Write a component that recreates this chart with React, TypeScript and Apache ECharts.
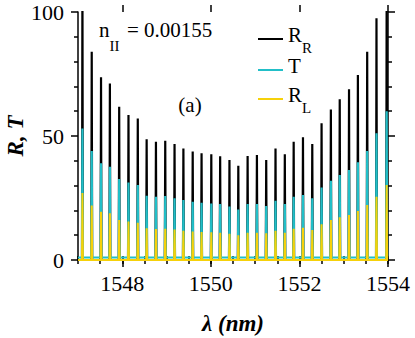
import React, { useEffect, useRef } from 'react';
import * as echarts from 'echarts';

// Resonance wavelengths (nm) of the spikes
const wavelengths = [
  1547.10, 1547.31, 1547.52, 1547.72, 1547.93, 1548.14, 1548.35, 1548.55, 1548.76, 1548.97,
  1549.18, 1549.38, 1549.59, 1549.79, 1550.01, 1550.21, 1550.42, 1550.62, 1550.83, 1551.04,
  1551.25, 1551.46, 1551.67, 1551.87, 1552.08, 1552.29, 1552.50, 1552.71, 1552.91, 1553.12,
  1553.32, 1553.53, 1553.74, 1553.97,
];
// Peak heights
const peaksRR = [
  112, 84, 73.7, 71.2, 61.8, 58.5, 57.1, 48.7, 47.7, 48.1,
  46.8, 45, 43.7, 43, 42.6, 41.8, 40.3, 38, 41.9, 42.3,
  40.3, 45, 42.6, 47.7, 49.5, 46.8, 55.1, 60.7, 64.8, 68.8,
  74.6, 84, 97.5, 112,
];
const peaksT = [
  53, 44, 39, 37.6, 32.7, 31.2, 30.2, 25.9, 25.5, 25.8,
  24.9, 24.2, 23.5, 23.1, 22.8, 22.6, 21.6, 20.4, 22.6, 22.6,
  21.8, 23.9, 22.6, 25.5, 26.2, 24.9, 29.2, 32, 34.3, 36.3,
  39.4, 44, 51.1, 60,
];
const peaksRL = [
  27, 22, 19.5, 18.8, 16.1, 15.5, 15, 12.8, 12.5, 12.6,
  12.3, 11.8, 11.5, 11.3, 11.2, 11, 10.6, 10, 11, 11,
  10.8, 11.8, 11, 12.6, 13, 12.1, 14.4, 16.1, 17.2, 18.1,
  19.8, 22.2, 25.5, 30.2,
];
// Off-resonance levels
const baseRR = 0;
const baseT = 1;
const baseRL = 0;

const xMin = 1547;
const xMax = 1554;
const xTickLabels = [1548, 1550, 1552, 1554];
const yMin = 0;
const yMax = 100;

const SPIKE_HALF = 0.01; // nm, half-width of a drawn resonance spike
const FONT = 'Liberation Serif';

function spikeData(peaks: number[], base: number): number[][] {
  const pts: number[][] = [[xMin, base]];
  wavelengths.forEach((w, i) => {
    pts.push([w - SPIKE_HALF, base], [w, peaks[i]], [w + SPIKE_HALF, base]);
  });
  pts.push([xMax, base]);
  return pts;
}

export default function App() {
  const ref = useRef<HTMLDivElement>(null);

  useEffect(() => {
    document.body.style.margin = '0';
    if (!ref.current) return;
    const chart = echarts.init(ref.current, undefined, { renderer: 'svg' });
    const line = { color: '#000', width: 1.5 };
    const baseAxisX = {
      type: 'value' as const,
      min: xMin,
      max: xMax,
      interval: 0.5,
      splitLine: { show: false },
    };
    const baseAxisY = {
      type: 'value' as const,
      min: yMin,
      max: yMax,
      interval: 50,
      splitLine: { show: false },
      minorSplitLine: { show: false },
    };
    const txt = (text: string, x: number, y: number, size: number, align = 'left') => ({
      type: 'text',
      x,
      y,
      style: { text, fontSize: size, fontFamily: FONT, fill: '#000', align, verticalAlign: 'middle' },
    });
    chart.setOption({
      animation: false,
      textStyle: { fontFamily: FONT },
      grid: { left: 78, right: 27, top: 12, bottom: 78, containLabel: false, outerBoundsMode: 'none' },
      legend: {
        orient: 'vertical',
        left: 258,
        top: 24.5,
        padding: 0,
        itemWidth: 25,
        itemHeight: 2,
        itemGap: 0,
        icon: 'rect',
        selectedMode: false,
        data: ['R_R', 'T', 'R_L'],
        formatter: (name: string) => (name === 'T' ? '{m|T}' : `{m|R}{s|${name.slice(2)}}`),
        textStyle: {
          color: '#000',
          fontFamily: FONT,
          fontSize: 21,
          lineHeight: 29,
          rich: {
            m: { fontSize: 21, fontFamily: FONT, color: '#000', verticalAlign: 'top' },
            s: { fontSize: 15, fontFamily: FONT, color: '#000', verticalAlign: 'top', padding: [16, 0, 0, 0] },
          },
        },
      },
      xAxis: [
        {
          ...baseAxisX,
          position: 'bottom',
          axisLine: { show: true, lineStyle: line },
          axisTick: { show: true, length: 4, lineStyle: line },
          axisLabel: {
            customValues: xTickLabels,
            formatter: (v: number) => String(v),
            fontFamily: FONT,
            fontSize: 22,
            color: '#000',
            margin: 12,
          },
          name: 'λ (nm)',
          nameLocation: 'middle',
          nameGap: 52,
          nameMoveOverlap: false,
          nameTextStyle: { fontFamily: FONT, fontSize: 23, fontWeight: 'bold', fontStyle: 'italic', color: '#000' },
        },
        {
          ...baseAxisX,
          position: 'top',
          axisLine: { show: true, lineStyle: line },
          axisTick: { show: true, length: 4, lineStyle: line },
          axisLabel: { show: false },
        },
        {
          ...baseAxisX,
          position: 'bottom',
          axisLine: { show: false },
          axisTick: { show: true, length: 7, customValues: xTickLabels, lineStyle: line },
          axisLabel: { show: false },
        },
        {
          ...baseAxisX,
          position: 'top',
          axisLine: { show: false },
          axisTick: { show: true, length: 7, customValues: xTickLabels, lineStyle: line },
          axisLabel: { show: false },
        },
      ],
      yAxis: [
        {
          ...baseAxisY,
          position: 'left',
          axisLine: { show: true, lineStyle: line },
          axisTick: { show: true, length: 7, lineStyle: line },
          minorTick: { show: true, splitNumber: 5, length: 4, lineStyle: line },
          axisLabel: { fontFamily: FONT, fontSize: 22, color: '#000', margin: 14 },
          name: 'R, T',
          nameLocation: 'middle',
          nameGap: 51,
          nameMoveOverlap: false,
          nameTextStyle: { fontFamily: FONT, fontSize: 23, fontWeight: 'bold', fontStyle: 'italic', color: '#000' },
        },
        {
          ...baseAxisY,
          position: 'right',
          axisLine: { show: true, lineStyle: line },
          axisTick: { show: true, length: 7, lineStyle: line },
          minorTick: { show: true, splitNumber: 5, length: 4, lineStyle: line },
          axisLabel: { show: false },
        },
      ],
      graphic: [
        txt('n', 99, 30, 21),
        txt('II', 109.5, 46, 15),
        txt('= 0.00155', 127, 30, 21),
        txt('(a)', 190, 105, 21, 'center'),
      ],
      series: [
        {
          name: 'R_R', type: 'line', xAxisIndex: 0, yAxisIndex: 0, symbol: 'none',
          data: spikeData(peaksRR, baseRR), itemStyle: { color: '#000' },
          lineStyle: { color: '#000', width: 2.2 }, clip: true,
        },
        {
          name: 'T', type: 'line', xAxisIndex: 0, yAxisIndex: 0, symbol: 'none',
          data: spikeData(peaksT, baseT), itemStyle: { color: '#22BFC8' },
          lineStyle: { color: '#22BFC8', width: 2.2 }, clip: true,
        },
        {
          name: 'R_L', type: 'line', xAxisIndex: 0, yAxisIndex: 0, symbol: 'none',
          data: spikeData(peaksRL, baseRL), itemStyle: { color: '#F6D10A' },
          lineStyle: { color: '#F6D10A', width: 2 }, clip: true,
        },
      ],
    });
    return () => chart.dispose();
  }, []);

  return <div ref={ref} style={{ position: 'absolute', left: 0, top: 0, width: 415, height: 338 }} />;
}
